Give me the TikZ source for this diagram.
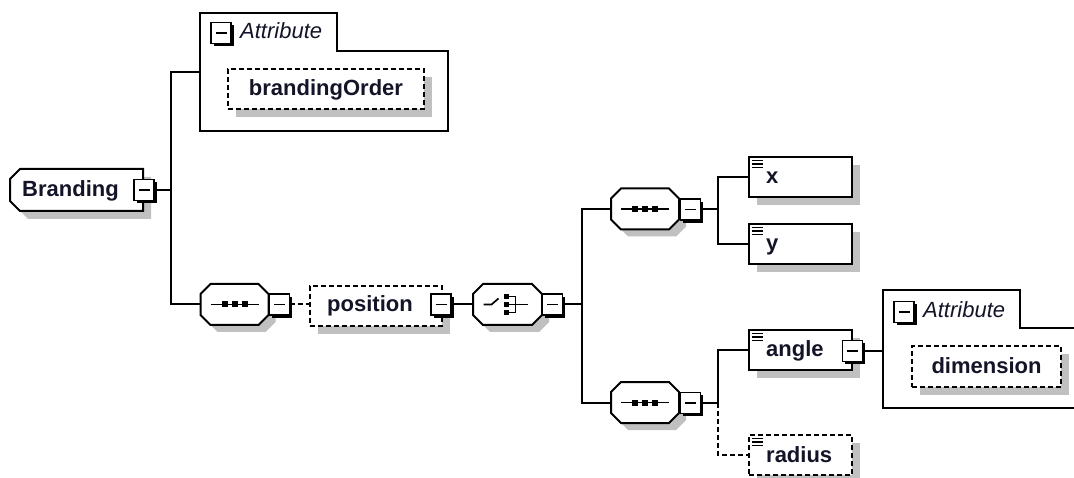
\documentclass[tikz,border=0pt]{standalone}
\usepackage{fontspec}
\setmainfont{Liberation Sans}
\usetikzlibrary{shadows,calc}
\definecolor{shd}{RGB}{192,192,192}
\definecolor{txt}{RGB}{20,20,40}
\tikzset{
  ln/.style={line width=2pt},
  dsh/.style={dash pattern=on 5pt off 3pt},
  lbl/.style={font=\fontsize{22}{24}\selectfont\bfseries, text=txt, inner sep=0pt},
  attrlbl/.style={font=\fontsize{22}{24}\selectfont\itshape, text=txt, inner sep=0pt},
  gshadow/.style={drop shadow={shadow xshift=8pt, shadow yshift=-8pt, fill=shd, opacity=1}},
  elbox/.style={draw, line width=2pt, fill=white, inner sep=0pt, gshadow,
    minimum width=103pt, minimum height=40pt,
    path picture={
      \foreach \k in {3.5,7,10.5}{
        \draw[line width=1.4pt, solid] ([shift={(3,\k)}]path picture bounding box.north west) -- ++(11,0);}
    }},
  dbox/.style={draw, dsh, line width=2pt, fill=white, inner sep=0pt, gshadow,
    font=\fontsize{22}{24}\selectfont\bfseries, text=txt, text height=14pt, text depth=0pt},
  mbox/.style={draw, line width=1.7pt, fill=white, inner sep=0pt,
    minimum width=20pt, minimum height=21pt,
    drop shadow={shadow xshift=2.8pt, shadow yshift=-2.8pt, fill=black, opacity=1},
    path picture={\draw[line width=1.8pt]
      ($(path picture bounding box.west)+(4.5,0)$) -- ($(path picture bounding box.east)+(-4.5,0)$);}},
  ghost/.style={inner sep=0pt, outer sep=0pt},
  comp/.style={ghost, minimum width=68pt, minimum height=41pt},
}
\newcommand\octpath[1]{([shift={(10,0)}]#1.north west) -- ([shift={(-10,0)}]#1.north east)
  -- ([shift={(0,10)}]#1.north east) -- ([shift={(0,-10)}]#1.south east)
  -- ([shift={(-10,0)}]#1.south east) -- ([shift={(10,0)}]#1.south west)
  -- ([shift={(0,-10)}]#1.south west) -- ([shift={(0,10)}]#1.north west) -- cycle}
\newcommand\drawcomp[1]{%
  \fill[shd, transform canvas={shift={(7,7)}}] \octpath{#1};
  \draw[ln, fill=white] \octpath{#1};}
\newcommand\seqicon[1]{%
  \draw[line width=1.7pt] ([xshift=-24]#1.center) -- ([xshift=24]#1.center);
  \foreach \d in {-10,0,10}{\fill ([shift={(\d-3,-3)}]#1.center) rectangle ++(6,6);}}
\newcommand\attrgroup[1]{%
  \draw[ln, fill=white] (#1.north west) -- ([xshift=137]#1.north west)
    -- ([shift={(137,38)}]#1.north west) -- ([shift={(0,38)}]#1.north east)
    -- (#1.south east) -- (#1.south west) -- cycle;}
\begin{document}
\begin{tikzpicture}[x=1pt,y=-1pt]
\useasboundingbox (0,0) rectangle (1074,478);
\fill[white] (0,0) rectangle (1074,478);

% ---------- Branding ----------
\node[ghost, minimum width=133pt, minimum height=42pt] (br) at (76.5,190) {};
\fill[shd, transform canvas={shift={(8,8)}}] ([shift={(10,0)}]br.north west) -- (br.north east) -- (br.south east) -- ([shift={(10,0)}]br.south west) -- ([shift={(0,-10)}]br.south west) -- ([shift={(0,10)}]br.north west) -- cycle;
\draw[ln, fill=white] ([shift={(10,0)}]br.north west) -- (br.north east) -- (br.south east) -- ([shift={(10,0)}]br.south west) -- ([shift={(0,-10)}]br.south west) -- ([shift={(0,10)}]br.north west) -- cycle;
\node[lbl, anchor=base west] (brt) at ([shift={(12,7)}]br.west) {Branding};
\node[mbox] (bm) at (144,190) {};

% ---------- Attribute group 1 ----------
\node[ghost, minimum width=248pt, minimum height=118pt] (ag1) at (324,72) {};
\attrgroup{ag1}
\node[mbox] (ag1m) at (221,33) {};
\node[attrlbl, anchor=base west] (ag1t) at ([shift={(19,6)}]ag1m.center) {Attribute};
\node[dbox, minimum width=196pt, minimum height=40pt] (bo) at (326,89) {brandingOrder};

% ---------- sequence 1 ----------
\node[comp] (seq1) at (234.5,304.5) {};
\drawcomp{seq1}
\seqicon{seq1}
\node[mbox] (s1m) at (279.5,304.5) {};

% ---------- position ----------
\node[dbox, minimum width=132pt, minimum height=40pt] (pos) at (376,306) {};
\node[lbl, anchor=base west] (post) at ([shift={(18,6)}]pos.west) {position};
\node[mbox] (pm) at (441,304.5) {};

% ---------- choice ----------
\node[comp, minimum width=69pt] (ch) at (507.5,304.5) {};
\drawcomp{ch}
\begin{scope}[line width=1.7pt]
  \draw ([xshift=-24]ch.center) -- ([xshift=-16]ch.center) -- ([shift={(-9,-6)}]ch.center);
  \foreach \d in {-8,0,8}{\fill ([shift={(-4,\d-2.5)}]ch.center) rectangle ++(5,5);}
  \draw ([shift={(1,-8)}]ch.center) -- ([shift={(8,-8)}]ch.center) -- ([shift={(8,8)}]ch.center) -- ([shift={(1,8)}]ch.center);
  \draw ([shift={(1,0)}]ch.center) -- ([shift={(20,0)}]ch.center);
\end{scope}
\node[mbox] (cm) at (552.5,304.5) {};
\coordinate (j2) at (582,304.5);

% ---------- sequence 2 ----------
\node[comp] (seq2) at (645,209) {};
\drawcomp{seq2}
\seqicon{seq2}
\node[mbox] (s2m) at (690.5,209.5) {};
\coordinate (j3) at (718,209.5);
\node[elbox] (xel) at (800.5,177) {};
\node[lbl, anchor=base west] (xt) at ([shift={(18,7)}]xel.west) {x};
\node[elbox] (yel) at (800.5,244) {};
\node[lbl, anchor=base west] (yt) at ([shift={(18,7)}]yel.west) {y};

% ---------- sequence 3 ----------
\node[comp] (seq3) at (645,402.5) {};
\drawcomp{seq3}
\seqicon{seq3}
\node[mbox] (s3m) at (690.5,403) {};
\coordinate (j4) at (718,403);
\node[elbox] (ang) at (800.5,350) {};
\node[lbl, anchor=base west] (angt) at ([shift={(18,7)}]ang.west) {angle};
\node[mbox] (am) at (852.5,351) {};
\node[elbox, dsh] (rad) at (800.5,455) {};
\node[lbl, anchor=base west] (radt) at ([shift={(18,7)}]rad.west) {radius};

% ---------- Attribute group 2 ----------
\node[ghost, minimum width=197pt, minimum height=118pt] (ag2) at (981.5,349) {};
\attrgroup{ag2}
\node[mbox] (ag2m) at (904,312) {};
\node[attrlbl, anchor=base west] (ag2t) at ([shift={(19,6)}]ag2m.center) {Attribute};
\node[dbox, minimum width=149pt, minimum height=41pt] (dim) at (986.5,366.5) {dimension};

% ---------- connectors ----------
\coordinate (j1) at (171,190);
\draw[ln] (bm.east) -- (j1);
\draw[ln] (j1) |- (ag1.west);
\draw[ln] (j1) |- (seq1.west);
\draw[ln, dsh] (s1m.east) -- (pos.west |- s1m.east);
\draw[ln] (pm.east) -- (ch.west |- pm.east);
\draw[ln] (cm.east) -- (j2);
\draw[ln] (j2) |- (seq2.west);
\draw[ln] (j2) |- (seq3.west);
\draw[ln] (s2m.east) -- (j3);
\draw[ln] (j3) |- (xel.west);
\draw[ln] (j3) |- (yel.west);
\draw[ln] (s3m.east) -- (j4);
\draw[ln] (j4) |- (ang.west);
\draw[ln, dsh] (j4) |- (rad.west);
\draw[ln] (am.east) -- (ag2.west |- am.east);
\end{tikzpicture}
\end{document}
